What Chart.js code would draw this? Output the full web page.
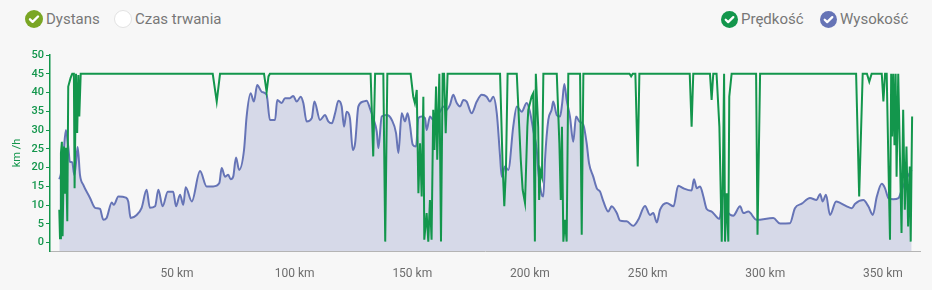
<!DOCTYPE html>
<html>
<head>
<meta charset="utf-8">
<script src="https://cdn.jsdelivr.net/npm/chart.js@4"></script>
<style>
  html, body { margin:0; padding:0; background:#f7f7f7; }
  body { width:932px; height:290px; position:relative; overflow:hidden; font-family:Roboto, sans-serif; }
  .lg { position:absolute; top:10px; height:18px; display:flex; align-items:center; font-size:15px; color:#777; white-space:nowrap; }
  .lg svg { margin-right:3px; flex:none; }
  #wrap { position:absolute; left:0; top:40px; width:932px; height:250px; }
</style>
</head>
<body>
<div class="lg" style="left:25px">
  <svg width="18" height="18" viewBox="0 0 18 18"><circle cx="9" cy="9" r="9" fill="#7aa624"/><path d="M5 9.3l2.6 2.5L13 6.5" stroke="#fff" stroke-width="2.4" fill="none" stroke-linecap="round" stroke-linejoin="round"/></svg>Dystans
</div>
<div class="lg" style="left:114px">
  <svg width="18" height="18" viewBox="0 0 18 18"><circle cx="9" cy="9" r="8.5" fill="#fff" stroke="#e2e2e2"/></svg>Czas trwania
</div>
<div class="lg" style="left:721px">
  <svg width="17" height="17" viewBox="0 0 18 18"><circle cx="9" cy="9" r="9" fill="#13964c"/><path d="M5 9.3l2.6 2.5L13 6.5" stroke="#fff" stroke-width="2.4" fill="none" stroke-linecap="round" stroke-linejoin="round"/></svg>Prędkość
</div>
<div class="lg" style="left:820px">
  <svg width="17" height="17" viewBox="0 0 18 18"><circle cx="9" cy="9" r="9" fill="#6674b6"/><path d="M5 9.3l2.6 2.5L13 6.5" stroke="#fff" stroke-width="2.4" fill="none" stroke-linecap="round" stroke-linejoin="round"/></svg>Wysokość
</div>
<div id="wrap"><canvas id="chart" width="932" height="250"></canvas></div>

<script>
// distance (km) and speed (km/h)
const speedKm = [0,0.3,0.7,1.1,1.4,2.0,2.5,2.8,3.4,3.8,4.8,5.5,6.2,6.5,7.1,7.6,8.1,8.5,9.1,
  65.2,66.9,68.3,87.0,88.1,88.9,89.5,132.3,133.4,134.2,137.7,138.5,139.4,
  149.3,150.4,151.1,151.9,152.6,153.3,154.0,154.7,155.1,156.1,156.8,157.5,158.2,158.9,159.4,160.1,160.6,161.5,162.2,162.9,163.5,164.2,165.0,
  187.3,188.4,189.1,189.8,190.5,194.4,196.1,196.9,197.9,198.9,199.3,200.7,201.4,202.1,202.5,203.5,203.9,204.5,205.1,205.7,
  211.4,212.5,213.1,213.6,214.2,214.9,215.6,216.3,221.3,222.0,222.7,
  242.3,243.0,243.7,244.8,245.8,246.5,267.9,268.7,269.4,276.5,277.2,277.9,
  279.3,280.5,281.5,281.9,282.5,282.9,283.6,284.3,284.7,285.7,296.1,296.7,297.8,
  338.6,339.9,341.4,343.2,344.2,345.2,349.5,350.2,350.9,351.6,352.3,353.0,353.5,353.9,354.4,354.9,355.4,355.8,356.5,
  357.2,357.9,358.6,359.3,360.0,360.7,361.4,361.8,362.4];
const speedVal = [8.8,1.2,23.9,26.9,1.7,25.6,13.3,25.3,5.7,41.6,43.9,45,45,14.5,45,29.2,44.7,33.6,45,
  45,37.6,45,45,40.2,44.3,45,45,23,45,45,0.3,45,
  45,38.9,37.2,40.7,13.2,26.5,12.3,38.9,0.8,7.9,0.3,11.4,0.8,35.4,24.7,41.6,22.1,45,0.3,45,45,29.2,45,
  45,20.3,9.7,19.4,45,45,22.1,14.1,10.6,30.9,35.4,38.9,39.8,0.3,45,30.9,11.4,19,17.6,45,
  45,26.5,11.4,30.9,0.3,6.1,0.3,45,45,2.1,45,
  45,44.3,45,45,20.3,45,45,30.9,45,45,38,45,
  45,30.9,0.3,13.2,45,0.3,13.2,0.3,38.9,45,45,2.1,45,
  45,12.3,45,45,42.9,45,45,37.6,45,45,22.1,0.8,45,28.3,45,26,45,17.6,45,
  23.9,2.6,35.4,8.8,25.6,4.3,20.3,0.3,33.6];

// distance (km) and elevation profile, in the plotted units
const elevKm = [0,0.6,1.7,2.8,3.8,4.5,5.5,6.4,7.1,7.8,8.8,10.2,13.0,15.2,17.3,18.7,20.1,22.3,23.2,25.1,
  28.3,29.3,30.3,32.9,35.0,37.1,38.5,40.7,42.1,43.9,46.1,48.4,49.6,51.3,52.7,53.7,56.3,59.8,62.6,65.4,
  68.0,69.0,70.4,71.8,72.8,73.9,75.1,76.4,78.5,79.6,81.3,82.7,84.1,86.0,88.1,89.5,91.7,92.6,94.5,95.9,
  98.0,99.4,100.9,102.6,103.7,105.1,107.3,108.4,110.8,112.9,114.3,115.8,117.2,118.6,120.0,121.0,122.1,123.5,124.7,125.7,
  127.1,129.2,130.6,132.0,133.4,134.9,135.6,137.0,139.1,141.3,143.1,144.1,145.5,146.9,148.0,149.0,150.2,151.6,152.6,154.0,
  155.4,156.1,157.5,158.9,160.4,161.8,163.2,164.6,166.0,167.4,168.9,170.3,171.7,173.1,175.2,177.4,179.5,181.6,183.0,184.4,
  185.9,187.3,188.0,189.4,190.8,192.9,194.4,196.5,198.6,200.0,201.4,202.9,203.5,205.0,205.7,206.4,207.8,209.2,209.9,211.4,
  212.8,213.7,214.6,215.6,217.0,218.4,219.6,221.0,222.7,224.1,225.1,226.9,228.4,229.8,231.2,233.3,234.7,236.9,238.3,241.1,
  243.9,246.0,248.9,251.0,252.4,253.9,255.3,258.1,261.0,263.0,265.2,268.7,269.7,270.9,272.3,273.7,275.1,277.2,278.6,280.5,
  282.2,284.3,286.4,289.3,290.7,292.8,296.3,303.4,306.3,310.5,312.6,315.5,319.0,321.8,323.3,324.4,325.8,327.5,330.1,331.8,
  334.6,336.8,338.2,341.7,343.8,345.7,347.4,349.5,350.9,352.3,354.4,356.6,358.0,360.1,362.2];
const elevVal = [16.9,18.1,23,30,25.6,21.6,21.4,18,21.3,25.5,18,15.4,12,9.3,9,6.1,6.6,10.7,10.1,12.3,
  12,11,6.6,7.4,9.3,14.1,9.3,9.7,14.1,9.7,13.6,13.6,9.7,12.8,10.1,14.8,11,19.1,15,15,
  15.9,19.9,17.6,18.1,16.9,17.6,22.7,19.4,24.7,33.6,39.8,37.6,42,40.2,39.4,32.7,32.7,38,37.2,38.5,
  38.5,39.1,37.6,38.9,37.2,32.3,33.2,37.6,32.7,34,32.3,31.8,34.5,37.8,36.3,30.9,34.9,33.2,24.7,26.5,
  36.3,37.6,37.8,35.8,33.2,29.6,25.2,33.6,34,32.7,29.2,23.9,34.5,32.3,34.5,31.4,26.1,25.6,33.2,33.6,
  33.2,30,33.6,32.7,34,34.9,36.3,35.4,36.7,39.4,37.2,36.3,38,37.6,34.5,37.6,39.4,38.9,37.6,38.9,
  34.5,23,17.6,20.3,19.4,30.9,36.3,34.9,37.2,34.9,30,24.7,19.4,12.8,12.3,22.1,32.7,35.4,37.6,34,
  33.6,37.2,42.3,38,33.6,26.9,33.6,32.3,31.4,26.5,21.2,17.6,14.5,13.6,11,8.3,9.7,7.9,5.9,5.7,
  4.5,6.1,9.8,7.4,7.9,5.4,8.8,10.6,9.7,15.2,14.5,13.9,16.9,14.5,15,12.3,9,8.3,7.4,6.3,
  13.2,7.9,7.2,9.7,7.9,8.3,6.1,6.6,5.1,5.2,9.2,10.4,11.9,11.4,13,11,12.8,7.4,11,10.6,
  9.7,9.2,10.4,11.4,9.7,7.4,12.3,15.7,14.5,11.9,11.6,11.9,14.1,17.2,19.4];

const xTicks = [50,100,150,200,250,300,350];
const yTicks = [0,5,10,15,20,25,30,35,40,45,50];

const GREEN = '#13964c';
const BLUE  = '#6674b6';

const pts = (xs, ys) => xs.map((x, i) => ({ x, y: ys[i] }));

new Chart(document.getElementById('chart'), {
  type: 'line',
  data: {
    datasets: [
      { label: 'Prędkość', data: pts(speedKm, speedVal), yAxisID: 'y',
        borderColor: GREEN, borderWidth: 2, pointRadius: 0, tension: 0, fill: false },
      { label: 'Wysokość', data: pts(elevKm, elevVal), yAxisID: 'y1',
        borderColor: BLUE, borderWidth: 2, pointRadius: 0, cubicInterpolationMode: 'monotone',
        backgroundColor: 'rgba(102,116,182,0.22)', fill: 'start' },
    ],
  },
  options: {
    responsive: false, animation: false,
    layout: { padding: { top: 15, right: 12, left: 0, bottom: 0 } },
    plugins: { legend: { display: false }, tooltip: { enabled: false } },
    scales: {
      x: {
        type: 'linear', min: -3.95, max: 365.75,
        afterBuildTicks: a => { a.ticks = xTicks.map(v => ({ value: v })); },
        afterFit: a => { a.height = 39; },
        grid: { display: false },
        border: { display: true, color: '#b4b4b4', width: 1 },
        ticks: { padding: 8, color: '#6d6d6d', font: { family: 'Roboto', size: 12 },
                 maxRotation: 0, callback: v => v + ' km' },
      },
      y: {
        min: -2.2, max: 50,
        afterBuildTicks: a => { a.ticks = yTicks.map(v => ({ value: v })); },
        afterFit: a => { a.width = 50; },
        grid: { drawOnChartArea: false, drawTicks: true, tickLength: 4, color: GREEN },
        border: { display: true, color: GREEN, width: 1.5 },
        ticks: { padding: 2, color: GREEN, font: { family: 'Roboto', size: 11, weight: '500' } },
        title: { display: true, text: 'km /h', color: GREEN, padding: { top: 11, bottom: 0 },
                 font: { family: 'Roboto', size: 11 } },
      },
      y1: { display: false, min: -2.2, max: 50 },
    },
  },
});
</script>
</body>
</html>
